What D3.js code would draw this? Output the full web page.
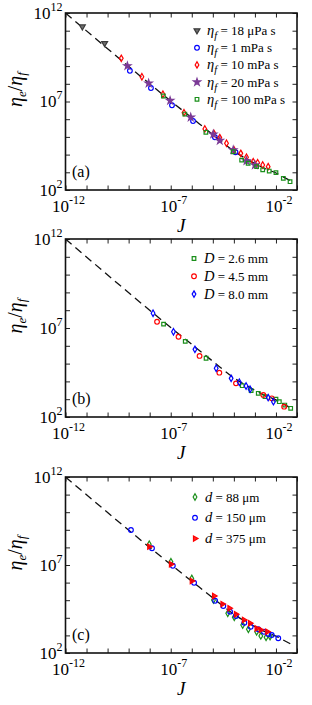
<!DOCTYPE html>
<html>
<head>
<meta charset="utf-8">
<script src="https://cdn.jsdelivr.net/npm/d3@7"></script>
<style>
  body { margin: 0; background: #fff; }
</style>
</head>
<body>
<script>
// values, stored as [log10 J, log10 (eta_e/eta_f)]

// (a) fluid viscosity series
let a_18uPa = [[-11.2, 11.23], [-10.14, 10.29]];
let a_1mPa = [[-8.94, 8.74], [-7.94, 7.76], [-6.94, 6.79], [-5.94, 5.90], [-4.90, 4.98], [-3.92, 4.13]];
let a_10mPa = [[-9.35, 9.44], [-8.37, 8.40], [-7.37, 7.41], [-6.37, 6.37], [-5.38, 5.45], [-4.95, 5.20],
               [-4.67, 4.96], [-4.35, 4.64], [-3.99, 4.26], [-3.67, 4.07], [-3.40, 3.85], [-3.08, 3.60],
               [-2.87, 3.54], [-2.63, 3.41], [-2.37, 3.32]];
let a_20mPa = [[-9.06, 9.01], [-8.05, 8.03], [-7.03, 7.05], [-6.05, 6.11], [-4.98, 5.15], [-4.67, 4.79],
               [-4.03, 4.26], [-3.40, 3.64], [-3.00, 3.41]];
let a_100mPa = [[-7.35, 7.31], [-6.33, 6.29], [-5.33, 5.26], [-4.03, 4.16], [-3.63, 3.69], [-3.32, 3.51],
                [-2.92, 3.32], [-2.63, 3.14], [-2.32, 3.07], [-2.00, 2.98], [-1.65, 2.66], [-1.33, 2.47]];

// (b) container diameter series
let b_26mm = [[-7.34, 7.22], [-6.31, 6.25], [-5.32, 5.30], [-3.60, 3.76], [-3.18, 3.48], [-2.84, 3.33],
              [-2.52, 3.14], [-2.00, 3.00], [-1.84, 2.86], [-1.58, 2.67], [-1.30, 2.49]];
let b_45mm = [[-7.65, 7.35], [-6.63, 6.51], [-5.63, 5.43], [-4.69, 4.49], [-3.90, 3.89], [-2.60, 3.24],
              [-2.20, 3.05], [-1.61, 2.58]];
let b_80mm = [[-7.84, 7.83], [-6.87, 6.79], [-5.85, 5.80], [-4.84, 4.74], [-4.13, 4.17], [-3.74, 3.95],
              [-3.42, 3.74], [-3.23, 3.56], [-2.37, 3.09], [-2.12, 2.86]];

// (c) particle diameter series
let c_88um = [[-8.02, 8.18], [-6.99, 7.19], [-6.00, 6.24], [-4.97, 5.01], [-4.29, 4.26], [-3.98, 4.03],
              [-3.58, 3.59], [-3.31, 3.35], [-2.92, 3.21], [-2.72, 2.97], [-2.47, 2.89], [-2.28, 2.93]];
let c_150um = [[-8.89, 8.99], [-7.89, 7.95], [-6.90, 6.96], [-5.89, 5.99], [-4.89, 4.97], [-4.50, 4.67],
               [-4.18, 4.35], [-3.90, 4.10], [-3.50, 3.72], [-3.20, 3.49], [-2.84, 3.35], [-2.57, 3.21],
               [-2.36, 3.08], [-2.20, 3.02], [-1.89, 2.84]];
let c_375um = [[-8.02, 8.04], [-6.99, 7.04], [-6.00, 6.09], [-4.94, 5.24], [-4.54, 4.78], [-4.21, 4.54],
               [-3.90, 4.20], [-3.52, 3.88], [-3.23, 3.69], [-2.92, 3.40], [-2.72, 3.31], [-2.41, 3.21]];

// dashed guide line (same in all panels)
let lineLogJ = [-12, -7, -6, -5, -4, -3, -2.5, -2, -1.5, -1.2];
let lineLogV = [12, 7.03, 6.08, 5.13, 4.2, 3.5, 3.2, 2.96, 2.64, 2.45];

// axis ticks and labels
let xDecades = d3.range(-12, 0);          // -12 .. -1
let yDecades = d3.range(2, 13);           // 2 .. 12
let xLabelled = [-12, -7, -2];
let yLabelled = [2, 7, 12];

let legendA = ["18 μPa s", "1 mPa s", "10 mPa s", "20 mPa s", "100 mPa s"];
let legendB = ["2.6 mm", "4.5 mm", "8.0 mm"];
let legendC = ["88 μm", "150 μm", "375 μm"];

const FONT = "'Liberation Serif', 'DejaVu Serif', 'Times New Roman', serif";

let svg = d3.select("body").append("svg")
  .attr("width", 312)
  .attr("height", 705)
  .attr("font-family", FONT)
  .style("font-family", FONT);

let left = 65.5, right = 297;

let panels = [
  {
    tag: "(a)", top: 13, bottom: 190, legVar: "η", legSub: "f", legX: 197, legY: 30.5, legStep: 17.2,
    series: [
      {data: a_18uPa, shape: "tridown", label: legendA[0]},
      {data: a_1mPa, shape: "circle", color: "#0000ff", label: legendA[1]},
      {data: a_10mPa, shape: "diamond", color: "#ff0000", label: legendA[2]},
      {data: a_20mPa, shape: "star", color: "#7b3a96", label: legendA[3]},
      {data: a_100mPa, shape: "square", color: "#1a8f1a", label: legendA[4]}
    ]
  },
  {
    tag: "(b)", top: 239, bottom: 417, legVar: "D", legSub: null, legX: 194, legY: 258.5, legStep: 17.8,
    series: [
      {data: b_26mm, shape: "square", color: "#1a8f1a", label: legendB[0]},
      {data: b_45mm, shape: "circle", color: "#ff0000", label: legendB[1]},
      {data: b_80mm, shape: "diamond", color: "#0000ff", label: legendB[2]}
    ]
  },
  {
    tag: "(c)", top: 477, bottom: 653, legVar: "d", legSub: null, legX: 195, legY: 497, legStep: 20.8,
    series: [
      {data: c_88um, shape: "diamond", color: "#1a8f1a", label: legendC[0]},
      {data: c_150um, shape: "circle", color: "#0000ff", label: legendC[1]},
      {data: c_375um, shape: "triright", color: "#ff0000", label: legendC[2]}
    ]
  }
];

panels.forEach(drawPanel);

function drawPanel(p) {
  let x = d3.scaleLog().domain([1e-12, 1e-1]).range([left, right]);
  let y = d3.scaleLog().domain([1e2, 1e12]).range([p.bottom, p.top]);
  let g = svg.append("g");

  appendAxes(g, p, x, y);
  appendGuideLine(g, x, y);
  p.series.forEach(function(s) { appendMarkers(g, s, x, y); });
  appendLegend(g, p);

  g.append("text")
    .attr("x", 72).attr("y", p.bottom - 13)
    .attr("font-size", 16)
    .text(p.tag);

  // x title
  g.append("text")
    .attr("x", (left + right) / 2).attr("y", p.bottom + 42)
    .attr("text-anchor", "middle")
    .attr("font-size", 19).attr("font-style", "italic")
    .text("J");

  // y title
  let yt = g.append("text")
    .attr("transform", `translate(22, ${(p.top + p.bottom) / 2 - 12}) rotate(-90)`)
    .attr("text-anchor", "middle")
    .attr("font-size", 20).attr("font-style", "italic");
  yt.append("tspan").text("η");
  yt.append("tspan").attr("font-size", 13).attr("dy", 4).text("e");
  yt.append("tspan").attr("dy", -4).attr("font-style", "normal").text("/");
  yt.append("tspan").text("η");
  yt.append("tspan").attr("font-size", 13).attr("dy", 4).text("f");
}

function appendAxes(g, p, x, y) {
  let xv = xDecades.map(d => Math.pow(10, d));
  let yv = yDecades.map(d => Math.pow(10, d));

  let axes = [
    [d3.axisBottom(x).tickValues(xv), `translate(0, ${p.bottom})`],
    [d3.axisTop(x).tickValues(xv), `translate(0, ${p.top})`],
    [d3.axisLeft(y).tickValues(yv), `translate(${left}, 0)`],
    [d3.axisRight(y).tickValues(yv), `translate(${right}, 0)`]
  ];
  axes.forEach(function(a) {
    let ag = g.append("g")
      .attr("transform", a[1])
      .call(a[0].tickSize(-4.5).tickFormat(""));
    ag.select(".domain").remove();
    ag.selectAll(".tick line").attr("stroke", "#222").attr("stroke-width", 1);
  });

  g.append("rect")
    .attr("x", left).attr("y", p.top)
    .attr("width", right - left).attr("height", p.bottom - p.top)
    .attr("fill", "none").attr("stroke", "#111").attr("stroke-width", 1.6);

  // tick labels as 10 with superscript
  xLabelled.forEach(function(e) {
    let t = g.append("text")
      .attr("x", x(Math.pow(10, e)) + 3).attr("y", p.bottom + 22)
      .attr("text-anchor", "middle")
      .attr("font-size", 17);
    t.append("tspan").text("10");
    t.append("tspan").attr("font-size", 12).attr("dy", -8).text(e < 0 ? "-" + (-e) : e);
  });
  yLabelled.forEach(function(e) {
    let t = g.append("text")
      .attr("x", left - 3).attr("y", y(Math.pow(10, e)) + 5.5)
      .attr("text-anchor", "end")
      .attr("font-size", 17);
    t.append("tspan").text("10");
    t.append("tspan").attr("font-size", 12).attr("dy", -8).text(e);
  });
}

function appendGuideLine(g, x, y) {
  let pts = lineLogJ.map((d, i) => [d, lineLogV[i]]);
  let line = d3.line()
    .x(d => x(Math.pow(10, d[0])))
    .y(d => y(Math.pow(10, d[1])))
    .curve(d3.curveMonotoneX);
  g.append("path")
    .datum(pts)
    .attr("d", line)
    .attr("fill", "none")
    .attr("stroke", "#111")
    .attr("stroke-width", 1.3)
    .attr("stroke-dasharray", "8,5");
}

function symbolFor(shape) {
  if (shape === "circle") return {type: d3.symbolCircle, size: 17, rot: 0, filled: false};
  if (shape === "square") return {type: d3.symbolSquare, size: 13, rot: 0, filled: false};
  if (shape === "diamond") return {type: d3.symbolDiamond, size: 12, rot: 0, filled: false};
  if (shape === "star") return {type: d3.symbolStar, size: 16, rot: 0, filled: true};
  if (shape === "tridown") return {type: d3.symbolTriangle, size: 15, rot: 180, filled: true};
  return {type: d3.symbolTriangle, size: 12, rot: 90, filled: true};
}

function styleMarker(sel, s) {
  let sym = symbolFor(s.shape);
  let col = s.color || "#3a3a3a";
  sel.attr("d", d3.symbol().type(sym.type).size(sym.size)())
    .attr("fill", sym.filled ? (s.shape === "tridown" ? "#707070" : col) : "none")
    .attr("fill-opacity", s.shape === "triright" ? 0.85 : 1)
    .attr("stroke", col)
    .attr("stroke-width", 1.2);
}

function appendMarkers(g, s, x, y) {
  let rot = symbolFor(s.shape).rot;
  g.append("g").selectAll("path")
    .data(s.data)
    .enter()
    .append("path")
    .call(styleMarker, s)
    .attr("transform", d => `translate(${x(Math.pow(10, d[0]))}, ${y(Math.pow(10, d[1]))}) rotate(${rot})`);
}

function appendLegend(g, p) {
  p.series.forEach(function(s, i) {
    let cy = p.legY + i * p.legStep;
    let rot = symbolFor(s.shape).rot;
    g.append("path")
      .call(styleMarker, s)
      .attr("transform", `translate(${p.legX}, ${cy}) rotate(${rot})`);
    let t = g.append("text")
      .attr("x", p.legX + 10).attr("y", cy + 4.5)
      .attr("font-size", 13);
    t.append("tspan").attr("font-style", "italic").attr("font-size", 14.5).text(p.legVar);
    if (p.legSub) {
      t.append("tspan").attr("font-style", "italic").attr("font-size", 10.5).attr("dy", 4).text(p.legSub);
      t.append("tspan").attr("dy", -4).text(" = " + s.label);
    } else {
      t.append("tspan").text(" = " + s.label);
    }
  });
}
</script>
</body>
</html>
